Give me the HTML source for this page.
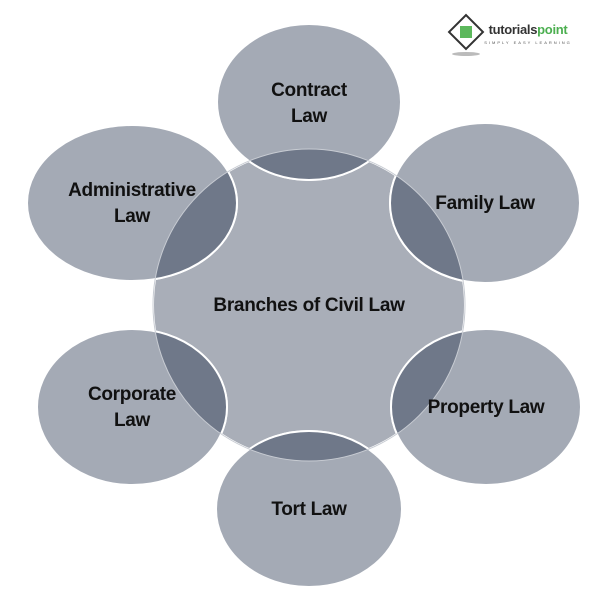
<!DOCTYPE html>
<html><head><style>
html,body{margin:0;padding:0;background:#fff;}
svg{display:block;}
text{font-family:"Liberation Sans",sans-serif;font-weight:bold;font-size:19px;fill:#111;text-anchor:middle;letter-spacing:-0.3px;}
</style></head><body>
<svg width="601" height="599" viewBox="0 0 601 599" xmlns="http://www.w3.org/2000/svg">
<defs>
<clipPath id="c"><circle cx="309" cy="305" r="156"/></clipPath>
</defs>
<circle cx="309" cy="305" r="156" fill="#a9aeb8" stroke="#fff" stroke-width="2"/>
<g fill="#a4aab5" stroke="#fff" stroke-width="2">
<ellipse cx="309" cy="102" rx="92" ry="78"/>
<ellipse cx="485" cy="203" rx="95" ry="80"/>
<ellipse cx="486" cy="407" rx="95" ry="78"/>
<ellipse cx="309" cy="509" rx="93" ry="78"/>
<ellipse cx="132" cy="407" rx="95" ry="78"/>
<ellipse cx="132" cy="203" rx="105" ry="78"/>
</g>
<g fill="#6f7889" stroke="#fff" stroke-width="2" clip-path="url(#c)">
<ellipse cx="309" cy="102" rx="92" ry="78"/>
<ellipse cx="485" cy="203" rx="95" ry="80"/>
<ellipse cx="486" cy="407" rx="95" ry="78"/>
<ellipse cx="309" cy="509" rx="93" ry="78"/>
<ellipse cx="132" cy="407" rx="95" ry="78"/>
<ellipse cx="132" cy="203" rx="105" ry="78"/>
</g>
<circle cx="309" cy="305" r="156" fill="none" stroke="#c8ccd3" stroke-width="1"/>
<text x="309" y="96">Contract</text><text x="309" y="122">Law</text>
<text x="485" y="209">Family Law</text>
<text x="132" y="196">Administrative</text><text x="132" y="222">Law</text>
<text x="309" y="311">Branches of Civil Law</text>
<text x="132" y="400">Corporate</text><text x="132" y="426">Law</text>
<text x="486" y="413">Property Law</text>
<text x="309" y="515">Tort Law</text>
<g transform="translate(448,14)">
<rect x="6" y="6" width="24" height="24" transform="rotate(45 18 18)" fill="#fff" stroke="#333" stroke-width="2"/>
<rect x="12" y="12" width="12" height="12" fill="#5cb85c"/>
<ellipse cx="18" cy="40" rx="14" ry="2" fill="#bbb"/>
<text x="80" y="20" style="font-size:13px;fill:#333;text-anchor:middle">tutorials<tspan fill="#4caf50">point</tspan></text>
<text x="80" y="30" style="font-size:4px;fill:#555;font-weight:normal;letter-spacing:2px">SIMPLY EASY LEARNING</text>
</g>
</svg>
</body></html>
